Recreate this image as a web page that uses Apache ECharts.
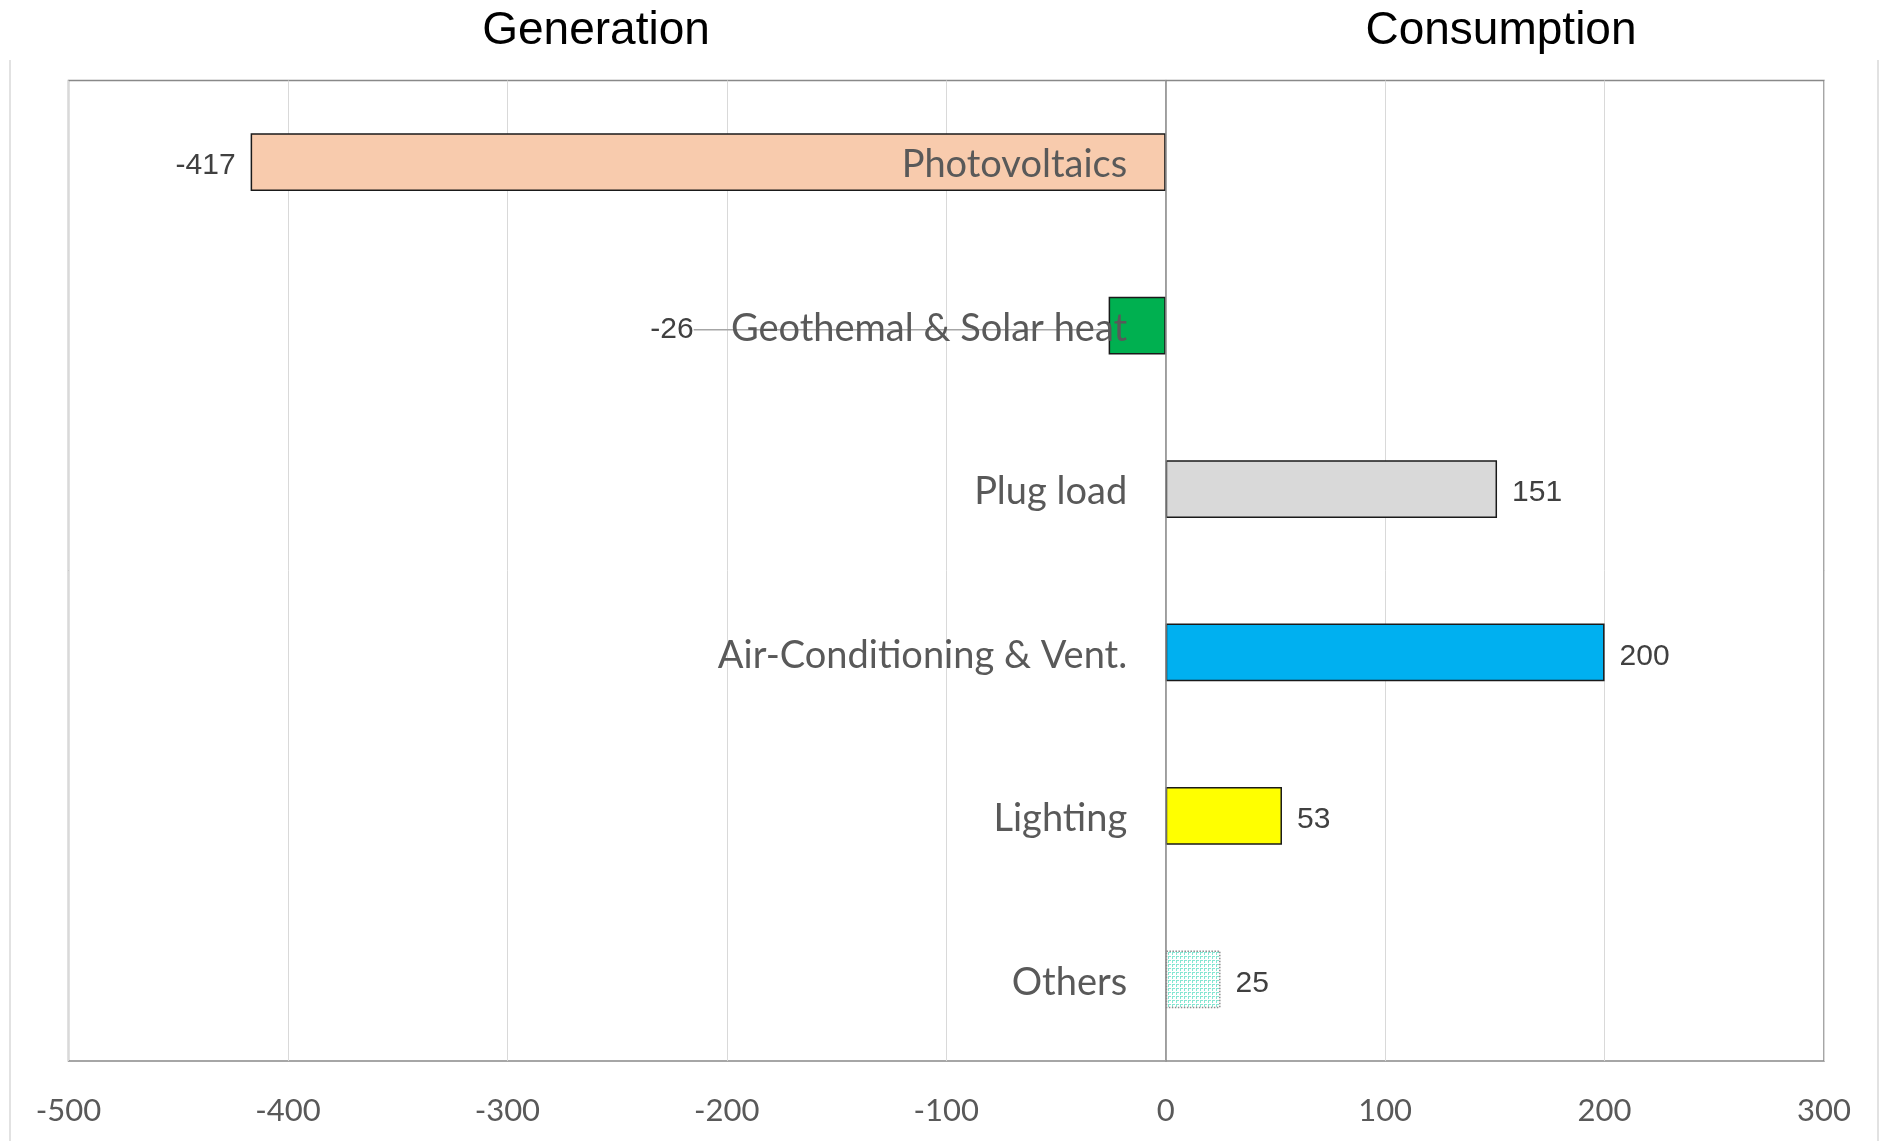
<!DOCTYPE html>
<html>
<head>
<meta charset="utf-8">
<title>Generation / Consumption</title>
<script src="https://cdn.jsdelivr.net/npm/echarts@6/dist/echarts.min.js"></script>
<style>
  html, body { margin: 0; padding: 0; background: #fff; }
  #chart { width: 1884px; height: 1141px; }
</style>
</head>
<body>
<div id="chart"></div>
<script>
const categories = ["Photovoltaics", "Geothemal & Solar heat", "Plug load", "Air-Conditioning & Vent.", "Lighting", "Others"]
const values = [-417, -26, 151, 200, 53, 25]
const barColors = ["#F8CBAD", "#00B050", "#D9D9D9", "#00B0F0", "#FFFF00", null]
const xTicks = { min: -500, max: 300, interval: 100 }
const titles = ["Generation", "Consumption"]

const GRID_LEFT = 68.5

// small dotted tile for the "Others" bar
function makePattern() {
  const c = document.createElement("canvas")
  c.width = 4
  c.height = 4
  const ctx = c.getContext("2d")
  ctx.fillStyle = "#ffffff"
  ctx.fillRect(0, 0, 4, 4)
  ctx.fillStyle = "#86e6d2"
  ctx.fillRect(0, 0, 3, 1)
  ctx.fillRect(0, 0, 1, 3)
  return c
}

const chart = echarts.init(document.getElementById("chart"))

const data = values.map((v, i) => {
  const item = { value: v }
  if (barColors[i]) {
    item.itemStyle = { color: barColors[i], borderColor: "#1a1a1a", borderWidth: 1.5 }
  } else {
    item.itemStyle = {
      color: { image: makePattern(), repeat: "repeat" },
      borderColor: "#8c8c8c",
      borderWidth: 1.5,
      borderType: "dotted",
    }
  }
  // label on the outer end of each bar
  if (v < 0) item.label = { position: "left" }
  // the small generation bar gets a leader line
  if (i === 1) item.labelLine = { show: true }
  return item
})

const option = {
  animation: false,
  grid: {
    left: GRID_LEFT,
    right: 60,
    top: 80.5,
    bottom: 80,
    show: true,
    borderColor: "#898989",
    borderWidth: 1.5,
    containLabel: false,
    outerBoundsMode: "none",
  },
  xAxis: {
    type: "value",
    min: xTicks.min,
    max: xTicks.max,
    interval: xTicks.interval,
    axisLine: { show: false },
    axisTick: { show: false },
    axisLabel: {
      color: "#595959",
      fontFamily: "Lato",
      fontSize: 31,
      margin: 34,
    },
    splitLine: { lineStyle: { color: "#d9d9d9", width: 1 } },
  },
  yAxis: {
    type: "category",
    data: categories,
    inverse: true,
    z: 3,
    axisLine: { onZero: true, lineStyle: { color: "#898989", width: 1.5 } },
    axisTick: { show: false },
    axisLabel: {
      margin: 38,
      formatter: (v) => "{c|" + v + "}",
      rich: {
        c: {
          color: "#595959",
          fontFamily: "Lato",
          fontSize: 38,
          padding: [6, 0, 0, 0],
        },
      },
    },
    splitLine: { show: false },
  },
  series: [
    {
      type: "bar",
      data: data,
      barWidth: "35.3%",
      label: {
        show: true,
        position: "right",
        distance: 15,
        color: "#404040",
        fontFamily: "Liberation Sans, Arial",
        fontSize: 30,
        formatter: (p) => String(p.value),
      },
      labelLine: {
        show: false,
        lineStyle: { color: "#a6a6a6", width: 1.5 },
      },
      labelLayout: (p) => ({ dx: p.dataIndex === 1 ? -400 : 0, dy: 4 }),
    },
  ],
  graphic: [
    {
      type: "text",
      x: 596,
      y: 31,
      style: {
        text: titles[0],
        fill: "#000",
        font: "46px 'Liberation Sans', Arial",
        textAlign: "center",
        textVerticalAlign: "middle",
      },
    },
    {
      type: "text",
      x: 1501,
      y: 31,
      style: {
        text: titles[1],
        fill: "#000",
        font: "46px 'Liberation Sans', Arial",
        textAlign: "center",
        textVerticalAlign: "middle",
      },
    },
    {
      type: "line",
      shape: { x1: 10, y1: 60, x2: 10, y2: 1141 },
      style: { stroke: "#d9d9d9", lineWidth: 1.5 },
    },
    {
      type: "line",
      shape: { x1: 1878, y1: 60, x2: 1878, y2: 1141 },
      style: { stroke: "#d9d9d9", lineWidth: 1.5 },
    },
  ],
}

chart.setOption(option)

// category labels hang off the zero line, not the grid edge
const zeroX = chart.convertToPixel({ xAxisIndex: 0 }, 0)
chart.setOption({ yAxis: { axisLabel: { margin: -(zeroX - GRID_LEFT - 38.5) } } })
</script>
</body>
</html>
